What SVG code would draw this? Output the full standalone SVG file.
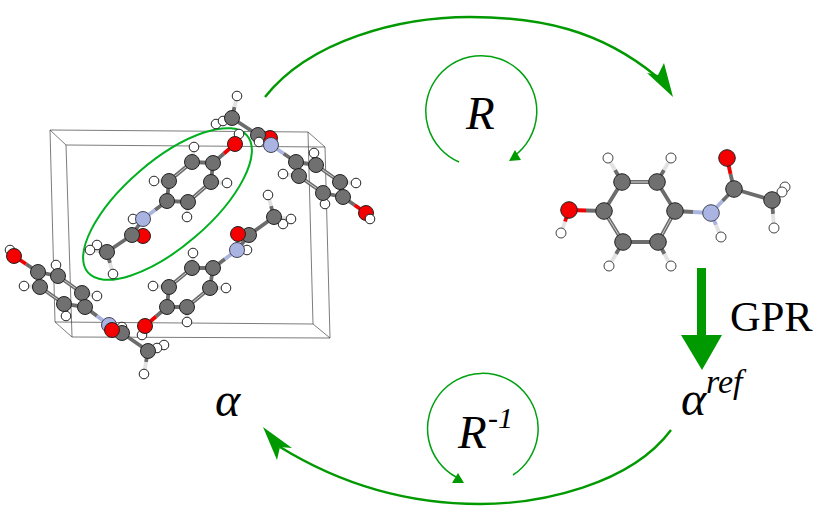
<svg xmlns="http://www.w3.org/2000/svg" width="830" height="518" viewBox="0 0 830 518">
<style>
.box{fill:none;stroke:#444;stroke-width:.7}
.c{fill:none;stroke:#6c6c6c;stroke-width:3.8}
.d{fill:none;stroke:#d4d4d4;stroke-width:1}
.h{fill:none;stroke:#e2e2e2;stroke-width:3.8}
.r{fill:none;stroke:#f00000;stroke-width:3.8}
.n{fill:none;stroke:#aab4e0;stroke-width:3.8}
circle{stroke:#222;stroke-width:1}
.C{fill:#707070;r:7.5px}
.O{fill:#f40000;r:7.5px}
.N{fill:#aab4e2;stroke:#445;r:7.5px}
.H{fill:#fff;r:4.8px}
#molecule-reference .C,#molecule-reference .O,#molecule-reference .N{r:8.3px}
#molecule-reference .H{r:5px;stroke:#444}
.g1{fill:none;stroke:#009900;stroke-width:2.4}
.g2{fill:none;stroke:#00a010;stroke-width:1.5}
.ga{fill:#009900}
.t{font-family:"Liberation Serif",serif;fill:#000}
.i{font-style:italic}
</style>
<g id="cell">
<path class="box" d="M50,130L308,132L325,147L66,145L50,130M50,130L55,322L313,324L330,338L72,337L55,322M66,145L72,337M308,132L313,324M325,147L330,338"/>
</g>
<g id="selection">
<ellipse cx="167.500" cy="204" rx="105" ry="43" transform="rotate(-40.700 167.500 204)" fill="none" stroke="#00b020" stroke-width="2"/>
</g>
<g id="molecule-a">
<path class="c" d="M234.500,107L232,118L227.500,119.500M232,118L224,121M232,118L258,135L264,136.500M258,135L271,145M296,162L283.500,153.500M296,162L316,165M296,162L299,176M316,165L340,182M299,176L323,193M340,182L343,197M323,193L343,197L354.500,205M315,159L316,165M291,175L299,176M348,182.500L340,182M324,198L323,193"/>
<path class="d" d="M316,165L340,182M299,176L323,193"/>
<path class="h" d="M237,96L234.500,107M216,124L224,121M223,121L227.500,119.500M314,153L315,159M283,174L291,175M356,183L348,182.500M325,204L324,198"/>
<path class="n" d="M271,145L283.500,153.500"/>
<path class="r" d="M354.500,205L366,213"/>
<circle class="H" cx="237" cy="96"/><circle class="H" cx="216" cy="124"/><circle class="H" cx="223" cy="121"/>
<circle class="C" cx="232" cy="118"/><circle class="O" cx="270" cy="138"/><circle class="C" cx="258" cy="135"/><circle class="H" cx="259" cy="142"/><circle class="N" cx="271" cy="145"/>
<circle class="H" cx="314" cy="153"/><circle class="H" cx="283" cy="174"/><circle class="H" cx="356" cy="183"/><circle class="H" cx="325" cy="204"/>
<circle class="C" cx="296" cy="162"/><circle class="C" cx="316" cy="165"/><circle class="C" cx="299" cy="176"/><circle class="C" cx="340" cy="182"/><circle class="C" cx="323" cy="193"/><circle class="C" cx="343" cy="197"/>
<circle class="O" cx="366" cy="213"/><circle class="H" cx="370" cy="219"/>
</g>
<g id="molecule-b">
<path class="c" d="M224,153.500L213,163L192,162L169,181L167,201L188,202L211,182L213,163M167,201L155,210M193,155L193,162M162,181L169,181M187.500,210L188,202M219,182.500L211,182M143,219L132,235L137,235.500M132,235L107,252L102,248.500M107,252L98.500,251M107,252L110,263"/>
<path class="d" d="M192,162L169,181M211,182L188,202"/>
<path class="h" d="M194,147L193,155M154,181L162,181M187,217L187.500,210M227,183L219,182.500M143,219L133,219M97,245L102,248.500M90,250L98.500,251M113,274L110,263"/>
<path class="n" d="M155,210L143,219"/>
<path class="r" d="M235,144L224,153.500M137,235.500L143,236"/>
<circle class="H" cx="239" cy="134"/><circle class="O" cx="235" cy="144"/>
<circle class="H" cx="194" cy="147"/><circle class="H" cx="154" cy="181"/><circle class="H" cx="187" cy="217"/><circle class="H" cx="227" cy="183"/><circle class="H" cx="133" cy="219"/>
<circle class="C" cx="213" cy="163"/><circle class="C" cx="192" cy="162"/><circle class="C" cx="211" cy="182"/><circle class="C" cx="169" cy="181"/><circle class="C" cx="167" cy="201"/><circle class="C" cx="188" cy="202"/>
<circle class="N" cx="143" cy="219"/><circle class="O" cx="143" cy="236"/><circle class="C" cx="132" cy="235"/>
<circle class="H" cx="97" cy="245"/><circle class="H" cx="90" cy="250"/><circle class="H" cx="113" cy="274"/><circle class="C" cx="107" cy="252"/>
</g>
<g id="molecule-c">
<path class="c" d="M26,264L38,272L58,276L82,293L85,307L64,304L40,287L38,272M85,307L97,316M56,270L58,276M32,286.500L40,287M90,294.500L82,293M65,310L64,304M109,325L122,333L148,351L152.500,349.500M148,351L156,348M148,351L146,362"/>
<path class="d" d="M58,276L82,293M40,287L64,304"/>
<path class="h" d="M56,265L56,270M24,286L32,286.500M97,296L90,294.500M66,316L65,310M157,348L152.500,349.500M164,345L156,348M144,374L146,362"/>
<path class="n" d="M97,316L109,325"/>
<path class="r" d="M14,256L26,264"/>
<circle class="H" cx="10" cy="250"/><circle class="O" cx="14" cy="256"/>
<circle class="H" cx="56" cy="265"/><circle class="H" cx="24" cy="286"/><circle class="H" cx="97" cy="296"/><circle class="H" cx="66" cy="316"/>
<circle class="C" cx="38" cy="272"/><circle class="C" cx="58" cy="276"/><circle class="C" cx="40" cy="287"/><circle class="C" cx="82" cy="293"/><circle class="C" cx="64" cy="304"/><circle class="C" cx="85" cy="307"/>
<circle class="N" cx="109" cy="325"/><circle class="H" cx="122" cy="327"/><circle class="C" cx="122" cy="333"/><circle class="O" cx="112" cy="330"/>
<circle class="H" cx="164" cy="345"/><circle class="H" cx="157" cy="348"/><circle class="H" cx="144" cy="374"/><circle class="C" cx="148" cy="351"/>
</g>
<g id="molecule-d">
<path class="c" d="M271,206L274,217L282,218M274,217L278,220.500M274,217L249,235L243.500,234.500M249,235L237,250M225,259L213,268L192,268L169,287L167,307L187,307L210,288L213,268M193,261L192,268M161,286.500L169,287M218,288L210,288M187,315L187,307M167,307L156,316.500"/>
<path class="d" d="M192,268L169,287M210,288L187,307"/>
<path class="h" d="M268,195L271,206M291,219L282,218M283,224L278,220.500M193,253L193,261M153,286L161,286.500M226,288L218,288M187,322L187,315"/>
<path class="n" d="M237,250L225,259"/>
<path class="r" d="M238,234L243.500,234.500M145,326L156,316.500"/>
<circle class="H" cx="268" cy="195"/><circle class="H" cx="283" cy="224"/><circle class="H" cx="291" cy="219"/><circle class="C" cx="274" cy="217"/>
<circle class="C" cx="249" cy="235"/><circle class="O" cx="238" cy="234"/><circle class="H" cx="247" cy="250"/><circle class="N" cx="237" cy="250"/>
<circle class="H" cx="193" cy="253"/><circle class="H" cx="153" cy="286"/><circle class="H" cx="226" cy="288"/><circle class="H" cx="187" cy="322"/>
<circle class="C" cx="213" cy="268"/><circle class="C" cx="192" cy="268"/><circle class="C" cx="210" cy="288"/><circle class="C" cx="169" cy="287"/><circle class="C" cx="187" cy="307"/><circle class="C" cx="167" cy="307"/>
<circle class="H" cx="142" cy="335"/><circle class="O" cx="145" cy="326"/>
</g>
<g id="molecule-reference">
<path class="c" d="M586,210.500L604,211L622,182L657,182L675,211L658,242L623,242L604,211M675,211L693,212M722.500,201L734,189L730.500,174M734,189L772,200L778.500,193.500M772,200L777,196M772,200L773,214M615,170L622,182M664,170L657,182M616,254L623,242M664.500,254L658,242"/>
<path class="d" d="M622,182L657,182M675,211L658,242M623,242L604,211"/>
<path class="h" d="M608,158L615,170M671,158L664,170M609,266L616,254M671,266L664.500,254M785,187L778.500,193.500M782,192L777,196M774,228L773,214M561,233L565,221.500"/>
<path class="n" d="M693,212L711,213M722.500,201L711,213M711,213L716,225"/>
<path class="h" d="M721,237L716,225"/>
<path class="r" d="M569,210L586,210.500M727,158L730.500,174M569,210L565,221.500"/>
<circle class="H" cx="561" cy="233"/><circle class="O" cx="569" cy="210"/>
<circle class="H" cx="608" cy="158"/><circle class="H" cx="671" cy="158"/><circle class="H" cx="609" cy="266"/><circle class="H" cx="671" cy="266"/>
<circle class="C" cx="604" cy="211"/><circle class="C" cx="622" cy="182"/><circle class="C" cx="657" cy="182"/><circle class="C" cx="675" cy="211"/><circle class="C" cx="623" cy="242"/><circle class="C" cx="658" cy="242"/>
<circle class="N" cx="711" cy="213"/><circle class="H" cx="721" cy="237"/>
<circle class="O" cx="727" cy="158"/><circle class="C" cx="734" cy="189"/>
<circle class="H" cx="785" cy="187"/><circle class="H" cx="782" cy="192"/><circle class="H" cx="774" cy="228"/><circle class="C" cx="772" cy="200"/>
</g>
<g id="connectors">
<path class="g1" d="M265,97C310,40 400,17 470,17C540,17 600,30 656,76"/>
<path class="ga" d="M673,97L664,63L658,75L647,73Z"/>
<path class="g1" d="M671,430C630,485 540,504 480,504C410,504 345,487 280,447"/>
<path class="ga" d="M263,427L292,448L280,447L277,460Z"/>
<path class="g2" d="M459,162A55.500,55.500 0 1 1 514,156"/>
<path class="ga" d="M509,161L515,150L521,160Z"/>
<path class="g2" d="M513,475A55.300,55.300 0 1 0 456,477"/>
<path class="ga" d="M464,483L458,473L452,483Z"/>
<path class="ga" d="M697,268H706V335H722L702,370L681,335H697Z"/>
</g>
<g id="labels">
<text class="t i" x="466" y="129" font-size="47">R</text>
<text class="t" x="730" y="331" font-size="42.500">GPR</text>
<text class="t i" x="215" y="416" font-size="48">α</text>
<text class="t i" x="681" y="415" font-size="48">α</text>
<text class="t i" x="706" y="393" font-size="34">ref</text>
<text class="t i" x="458" y="448" font-size="47">R</text>
<text class="t i" x="488" y="428" font-size="30">-1</text>
</g>
</svg>
